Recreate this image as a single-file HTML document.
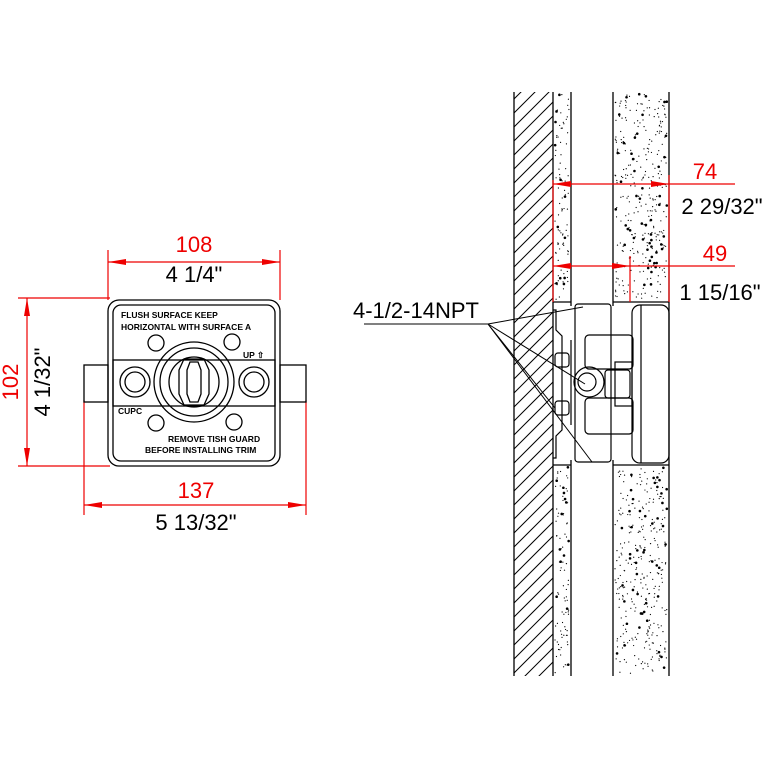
<!DOCTYPE html>
<html><head><style>
html,body{margin:0;padding:0;background:#fff;}
svg{display:block;}
text{font-family:"Liberation Sans",Arial,sans-serif;}
</style></head><body>
<svg id="s" width="768" height="768" viewBox="0 0 768 768" xmlns="http://www.w3.org/2000/svg">
<defs>
<pattern id="hatch" patternUnits="userSpaceOnUse" width="14" height="14" patternTransform="rotate(0)">
<line x1="0" y1="14" x2="14" y2="0" stroke="#000" stroke-width="1"/>
</pattern>
<clipPath id="hc"><rect x="514" y="92" width="39" height="584"/></clipPath>
</defs>
<!-- wall -->
<g clip-path="url(#hc)">
<g stroke="#000" stroke-width="1" id="hl"></g>
</g>
<g fill="none" stroke="#000" stroke-width="1.3">
<line x1="514" y1="92" x2="514" y2="676"/>
<line x1="553" y1="92" x2="553" y2="676"/>
<line x1="571" y1="92" x2="571" y2="306"/>
<line x1="571" y1="460" x2="571" y2="676"/>
<line x1="613" y1="92" x2="613" y2="306"/>
<line x1="613" y1="460" x2="613" y2="676"/>
<line x1="669" y1="92" x2="669" y2="676"/>
<line x1="553" y1="302" x2="571" y2="302"/>
<line x1="553" y1="465" x2="571" y2="465"/>
<line x1="613" y1="302" x2="669" y2="302"/>
<line x1="613" y1="465" x2="669" y2="465"/>
</g>
<g id="dots" fill="#000"></g>
<!-- fixture side view -->
<g fill="none" stroke="#000" stroke-width="1.2">
<path d="M553 310 L556 310 L556 330 L562 336 L562 430 L556 436 L556 458 L553 458"/>
<rect x="575" y="304" width="36" height="158" rx="3"/>
<rect x="632" y="305" width="37" height="158" rx="8"/>
<line x1="641" y1="305" x2="641" y2="463"/>
<rect x="585" y="335" width="48" height="34" rx="4"/>
<rect x="585" y="398" width="48" height="36" rx="4"/>
<circle cx="589" cy="382" r="15"/>
<circle cx="587" cy="382" r="9"/>
<rect x="605" y="370" width="25" height="28" rx="3"/>
<rect x="615" y="362" width="17" height="44"/>
<rect x="555" y="353" width="14" height="14" rx="3"/>
<rect x="555" y="401" width="14" height="14" rx="3"/>
<line x1="571" y1="340" x2="571" y2="425"/>
</g>
<!-- leaders -->
<g stroke="#000" stroke-width="1" fill="none">
<line x1="364" y1="324" x2="488" y2="324"/>
<line x1="488" y1="324" x2="583" y2="307"/>
<line x1="488" y1="324" x2="585" y2="384"/>
<line x1="488" y1="324" x2="555" y2="408"/>
<line x1="488" y1="324" x2="592" y2="462"/>
</g>
<text x="353" y="318" font-size="22">4-1/2-14NPT</text>
<!-- right dims -->
<g stroke="#e00" stroke-width="1.2" fill="#e00">
<line x1="553" y1="184" x2="735" y2="184"/>
<line x1="669" y1="175" x2="669" y2="302"/>
<line x1="553" y1="180" x2="553" y2="302"/>
<line x1="553" y1="266" x2="735" y2="266"/>
<line x1="630" y1="256" x2="630" y2="302"/>
<polygon points="553,184 571,181 571,187" stroke="none"/>
<polygon points="669,184 651,181 651,187" stroke="none"/>
<polygon points="553,266 571,263 571,269" stroke="none"/>
<polygon points="630,266 612,263 612,269" stroke="none"/>
</g>
<text x="705" y="179" font-size="22" fill="#e00" text-anchor="middle">74</text>
<text x="722" y="214" font-size="22" text-anchor="middle">2 29/32"</text>
<text x="715" y="261" font-size="22" fill="#e00" text-anchor="middle">49</text>
<text x="720" y="300" font-size="22" text-anchor="middle">1 15/16"</text>
<!-- left dims -->
<g stroke="#e00" stroke-width="1.2" fill="#e00">
<line x1="108" y1="250" x2="108" y2="300"/>
<line x1="280" y1="250" x2="280" y2="300"/>
<line x1="108" y1="262" x2="280" y2="262"/>
<polygon points="108,262 126,259 126,265" stroke="none"/>
<polygon points="280,262 262,259 262,265" stroke="none"/>
<line x1="18" y1="298" x2="110" y2="298"/>
<line x1="18" y1="466" x2="110" y2="466"/>
<line x1="27" y1="298" x2="27" y2="466"/>
<polygon points="27,298 24,316 30,316" stroke="none"/>
<polygon points="27,466 24,448 30,448" stroke="none"/>
<line x1="84" y1="400" x2="84" y2="515"/>
<line x1="306" y1="400" x2="306" y2="515"/>
<line x1="84" y1="505" x2="306" y2="505"/>
<polygon points="84,505 102,502 102,508" stroke="none"/>
<polygon points="306,505 288,502 288,508" stroke="none"/>
</g>
<text x="194" y="252" font-size="22" fill="#e00" text-anchor="middle">108</text>
<text x="194" y="282" font-size="22" text-anchor="middle">4 1/4"</text>
<text x="196" y="498" font-size="22" fill="#e00" text-anchor="middle">137</text>
<text x="196" y="530" font-size="22" text-anchor="middle">5 13/32"</text>
<text transform="translate(18,382) rotate(-90)" font-size="22" fill="#e00" text-anchor="middle">102</text>
<text transform="translate(50,382) rotate(-90)" font-size="22" text-anchor="middle">4 1/32"</text>
<!-- front view -->
<g fill="none" stroke="#000" stroke-width="1.3">
<rect x="84" y="365" width="24" height="37"/>
<rect x="280" y="365" width="26" height="37"/>
<rect x="108" y="300" width="172" height="166" rx="11"/>
<rect x="113" y="305" width="162" height="156" rx="8"/>
<rect x="113" y="360" width="162" height="46"/>
<circle cx="194" cy="382" r="40"/>
<circle cx="194" cy="382" r="34"/>
<circle cx="194" cy="382" r="25"/>
<path d="M184 359 L204 359 L209 370 L209 394 L204 405 L184 405 L179 394 L179 370 Z"/>
<path d="M190 362 L198 362 L201 370 L201 394 L198 402 L190 402 L187 394 L187 370 Z"/>
<circle cx="135" cy="382" r="15"/><circle cx="135" cy="382" r="10"/>
<circle cx="254" cy="382" r="15"/><circle cx="254" cy="382" r="10"/>
<circle cx="156" cy="343" r="8"/><circle cx="232" cy="342" r="8"/>
<circle cx="156" cy="423" r="8"/><circle cx="234" cy="422" r="8"/>
</g>
<g font-size="8.5" font-weight="bold">
<text x="121" y="318">FLUSH  SURFACE  KEEP</text>
<text x="121" y="330">HORIZONTAL  WITH  SURFACE  A</text>
<text x="243" y="358">UP ⇧</text>
<text x="118" y="414">CUPC</text>
<text x="168" y="442">REMOVE  TISH  GUARD</text>
<text x="145" y="453">BEFORE  INSTALLING  TRIM</text>
</g>
</svg>
<script>
var ns="http://www.w3.org/2000/svg";
var hl=document.getElementById("hl");
for(var y=60;y<720;y+=14){var l=document.createElementNS(ns,"line");l.setAttribute("x1",514);l.setAttribute("y1",y+39);l.setAttribute("x2",553);l.setAttribute("y2",y);hl.appendChild(l);}
var d=document.getElementById("dots");var seed=7;function r(){seed=(seed*16807)%2147483647;return seed/2147483647;}
function fill(x0,x1,y0,y1,n){for(var i=0;i<n;i++){var c=document.createElementNS(ns,"circle");c.setAttribute("cx",x0+r()*(x1-x0));c.setAttribute("cy",y0+r()*(y1-y0));c.setAttribute("r",r()<0.15?1.3:0.6);d.appendChild(c);}}
fill(555,569,94,300,90);fill(555,569,467,674,90);fill(615,667,94,300,330);fill(615,667,467,674,330);
</script>
</body></html>
